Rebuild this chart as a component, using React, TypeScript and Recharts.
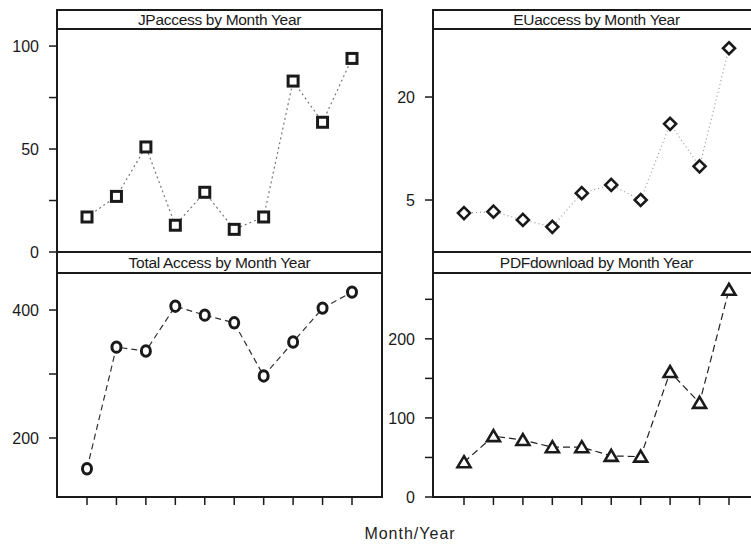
import React from "react";
import { LineChart, Line, XAxis, YAxis } from "recharts";

// values
const months = ["Jan", "Feb", "Mar", "Apr", "May", "Jun", "Jul", "Aug", "Sep", "Oct"];
const jpAccess = [17, 27, 51, 13, 29, 11, 17, 83, 63, 94];
const euAccess = [3.1, 3.3, 2.1, 1.1, 6.0, 7.2, 5.0, 16.1, 9.9, 27.1];
const totalAccess = [152, 342, 336, 406, 392, 380, 297, 350, 403, 428];
const pdfDownload = [44, 77, 72, 63, 63, 52, 51, 158, 119, 262];

const jpTicks = [0, 25, 50, 75, 100];
const jpLabels = [0, 50, 100];
const euTicks = [5, 20];
const euLabels = [5, 20];
const totalTicks = [200, 300, 400];
const totalLabels = [200, 400];
const pdfTicks = [0, 50, 100, 150, 200, 250];
const pdfLabels = [0, 100, 200];

const ink = "#1a1a1a";
const font = "'Liberation Sans', Arial, sans-serif";

const square = (p: any) => (
  <rect key={p.index} x={p.cx - 5} y={p.cy - 5} width={10} height={10} fill="#fff" stroke={ink} strokeWidth={3} />
);
const diamond = (p: any) => (
  <polygon key={p.index} points={`${p.cx},${p.cy - 6} ${p.cx + 6},${p.cy} ${p.cx},${p.cy + 6} ${p.cx - 6},${p.cy}`} fill="#fff" stroke={ink} strokeWidth={2.6} />
);
const circle = (p: any) => (
  <ellipse key={p.index} cx={p.cx} cy={p.cy} rx={4.5} ry={5.2} fill="#fff" stroke={ink} strokeWidth={3} />
);
const triangle = (p: any) => (
  <polygon key={p.index} points={`${p.cx},${p.cy - 6} ${p.cx + 6.5},${p.cy + 5} ${p.cx - 6.5},${p.cy + 5}`} fill="#fff" stroke={ink} strokeWidth={2.6} />
);

type PanelProps = {
  title: string;
  values: number[];
  left: number; // plot left edge
  top: number; // strip top edge
  stripH: number;
  plotW: number;
  plotH: number;
  padX: number;
  domain: [number, number];
  ticks: number[];
  labels: number[];
  shape: (p: any) => React.ReactElement;
  stroke: string;
  dash: string;
  showX: boolean;
};

const Panel = (p: PanelProps) => {
  const data = months.map((m, i) => ({ month: m, v: p.values[i] }));
  const yW = 60;
  const plotTop = p.top + p.stripH;
  const bottom = p.showX ? 0 : 12;
  return (
    <>
      <div
        style={{
          position: "absolute",
          left: p.left - 1,
          top: p.top - 1,
          width: p.plotW + 2,
          height: p.stripH + p.plotH + 2,
          border: `2px solid ${ink}`,
          boxSizing: "border-box",
        }}
      >
        <div
          style={{
            height: p.stripH - 1,
            borderBottom: `2px solid ${ink}`,
            boxSizing: "border-box",
            textAlign: "center",
            fontFamily: font,
            fontSize: 15.5,
            lineHeight: `${p.stripH - 3}px`,
            color: ink,
            letterSpacing: -0.3,
          }}
        >
          {p.title}
        </div>
      </div>
      <div style={{ position: "absolute", left: p.left - yW, top: plotTop - 12 }}>
        <LineChart
          width={yW + p.plotW}
          height={p.plotH + 12 + (p.showX ? 22 : 12)}
          data={data}
          margin={{ top: 12, right: 0, left: 0, bottom }}
        >
          <XAxis
            dataKey="month"
            hide={!p.showX}
            height={22}
            axisLine={false}
            tickLine={{ stroke: ink, strokeWidth: 1.5 }}
            tickSize={8}
            tickFormatter={() => ""}
            padding={{ left: p.padX, right: p.padX }}
          />
          <YAxis
            width={yW}
            domain={p.domain}
            ticks={p.ticks}
            allowDataOverflow
            axisLine={false}
            tickLine={{ stroke: ink, strokeWidth: 1.5 }}
            tickSize={8}
            tickMargin={10}
            tick={{ fill: ink, fontSize: 16, fontFamily: font }}
            tickFormatter={(v: number) => (p.labels.includes(v) ? String(v) : "")}
          />
          <Line
            dataKey="v"
            stroke={p.stroke}
            strokeWidth={1.2}
            strokeDasharray={p.dash}
            dot={p.shape}
            isAnimationActive={false}
          />
        </LineChart>
      </div>
    </>
  );
};

export default function App() {
  return (
    <div
      style={{
        position: "absolute",
        left: 0,
        top: 0,
        width: 751,
        height: 547,
        overflow: "hidden",
        background: "#fff",
      }}
    >
      <Panel
        title="JPaccess by Month Year"
        values={jpAccess}
        left={57}
        top={10}
        stripH={20}
        plotW={325}
        plotH={222}
        padX={30}
        domain={[0, 107.8]}
        ticks={jpTicks}
        labels={jpLabels}
        shape={square}
        stroke="#777"
        dash="2 3"
        showX={false}
      />
      <Panel
        title="EUaccess by Month Year"
        values={euAccess}
        left={433}
        top={10}
        stripH={20}
        plotW={327}
        plotH={222}
        padX={31}
        domain={[-2.57, 29.76]}
        ticks={euTicks}
        labels={euLabels}
        shape={diamond}
        stroke="#999"
        dash="1 3"
        showX={false}
      />
      <Panel
        title="Total Access by Month Year"
        values={totalAccess}
        left={57}
        top={252}
        stripH={22}
        plotW={325}
        plotH={223}
        padX={30}
        domain={[107.8, 456.3]}
        ticks={totalTicks}
        labels={totalLabels}
        shape={circle}
        stroke="#333"
        dash="6 4"
        showX={true}
      />
      <Panel
        title="PDFdownload by Month Year"
        values={pdfDownload}
        left={433}
        top={252}
        stripH={22}
        plotW={327}
        plotH={223}
        padX={31}
        domain={[0, 282]}
        ticks={pdfTicks}
        labels={pdfLabels}
        shape={triangle}
        stroke="#222"
        dash="7 4"
        showX={true}
      />
      <div
        style={{
          position: "absolute",
          left: 310,
          width: 200,
          top: 525,
          textAlign: "center",
          fontFamily: font,
          fontSize: 16,
          letterSpacing: 1,
          color: "#222",
        }}
      >
        Month/Year
      </div>
    </div>
  );
}
